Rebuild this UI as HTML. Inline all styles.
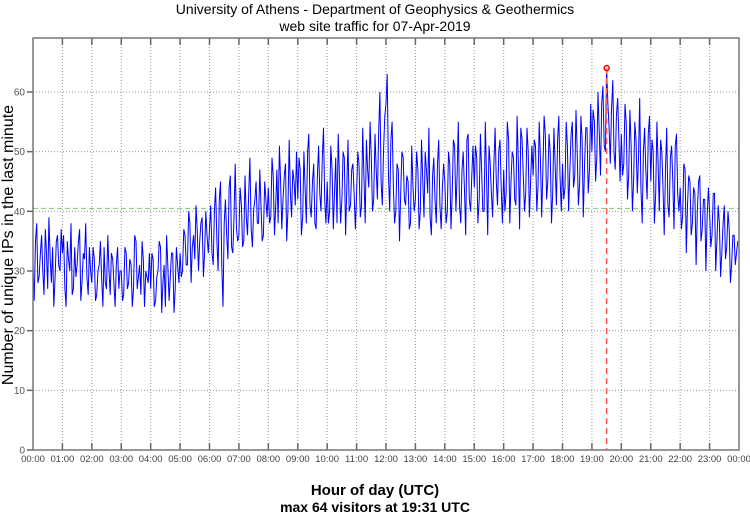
<!DOCTYPE html>
<html><head><meta charset="utf-8"><style>
body{margin:0;background:#fff;}
svg{display:block;font-family:"Liberation Sans",sans-serif;}
</style></head><body>
<svg id="chart" width="750" height="515" viewBox="0 0 750 515">
<text x="375" y="14" text-anchor="middle" font-size="14">University of Athens - Department of Geophysics &amp; Geothermics</text>
<text x="375" y="31" text-anchor="middle" font-size="14">web site traffic for 07-Apr-2019</text>
<text x="375" y="495" text-anchor="middle" font-size="15" font-weight="bold">Hour of day (UTC)</text>
<text x="375" y="512" text-anchor="middle" font-size="14" font-weight="bold">max 64 visitors at 19:31 UTC</text>
<text transform="translate(13,245) rotate(-90)" text-anchor="middle" font-size="16">Number of unique IPs in the last minute</text>
<g id="grid"></g><g id="series"></g><g id="axes"></g>
</svg>
<script>
const yTicks=[0,10,20,30,40,50,60];
const xTickLabels=["00:00","01:00","02:00","03:00","04:00","05:00","06:00","07:00","08:00","09:00","10:00","11:00","12:00","13:00","14:00","15:00","16:00","17:00","18:00","19:00","20:00","21:00","22:00","23:00","00:00"];
const meanLine=[40.5];
// samples at :00, :05, :10 ... of each hour
const visitors=[
31,35,28,33,30,37,27,32,34,29,36,30,
33,27,35,30,26,34,31,37,28,32,29,34,
28,32,26,31,29,34,27,30,33,28,31,27,
30,26,33,28,31,27,35,29,26,32,30,28,
27,32,25,30,34,28,24,31,29,33,27,31,
33,30,36,31,38,34,32,37,35,39,33,36,
37,33,40,35,42,31,38,36,44,34,39,37,
36,41,35,39,43,37,40,45,38,41,36,42,
44,39,46,41,38,45,42,48,40,43,47,41,
42,47,39,44,50,41,45,38,46,43,49,42,
45,40,47,43,38,46,42,49,44,40,47,43,
43,48,41,46,52,44,49,42,47,53,45,50,
58,46,52,44,40,47,43,49,41,45,38,44,
42,47,40,45,50,43,39,46,42,48,41,44,
45,40,48,43,51,46,41,47,44,52,42,46,
44,49,42,47,40,46,51,43,48,45,50,44,
47,43,52,45,49,41,48,54,46,43,50,45,
46,51,44,49,47,53,45,50,43,48,52,46,
48,44,51,47,55,46,50,45,52,48,54,47,
50,55,49,53,58,51,64,54,57,50,56,52,
53,48,55,46,51,45,52,49,44,50,47,53,
45,50,43,48,52,44,47,41,49,45,51,43,
44,39,47,41,45,38,43,40,46,37,42,39,
40,36,43,35,38,33,41,34,37,31,36,33];
// samples at :02.5, :07.5 ... of each hour
const visitorsB=[
25,38,29,36,26,33,39,28,24,35,31,37,
36,24,32,38,27,29,35,25,33,38,26,30,
34,25,30,35,24,28,36,26,32,24,34,30,
25,34,27,32,24,36,27,31,35,24,29,33,
33,24,29,35,23,31,36,25,33,23,34,28,
29,37,31,40,28,36,41,30,38,29,40,33,
41,31,44,30,45,24,42,32,46,33,48,35,
44,34,46,36,49,34,42,38,47,35,45,39,
38,49,36,47,51,37,46,35,52,39,45,50,
49,36,50,38,53,39,48,37,51,40,54,38,
38,51,37,49,53,38,50,36,52,41,48,37,
50,39,54,38,47,55,40,53,42,60,41,56,
63,40,55,38,48,35,50,42,46,37,51,40,
50,37,52,39,47,54,36,49,38,52,37,48,
38,50,37,52,40,55,38,50,36,53,40,51,
51,38,53,40,55,36,48,39,54,41,52,38,
40,55,38,50,42,56,37,52,40,54,39,51,
52,40,55,39,56,42,53,38,54,41,56,40,
42,55,40,53,44,57,41,56,39,54,43,58,
57,45,60,46,61,50,58,48,62,47,59,45,
46,58,42,57,40,55,43,59,38,54,42,56,
52,38,55,40,50,36,54,39,51,37,53,40,
37,48,33,46,36,44,31,45,35,42,30,44,
34,43,30,41,29,38,32,40,28,36,31,35];
const L=33,R=739,T=38,B=450,YMAX=69.05;
const NS="http://www.w3.org/2000/svg";
const xs=h=>L+(R-L)*h/24;
const ys=v=>B-(B-T)*v/YMAX;
function mk(tag,attrs,parent){const e=document.createElementNS(NS,tag);for(const k in attrs)e.setAttribute(k,attrs[k]);parent.appendChild(e);return e;}
const grid=document.getElementById('grid'),axes=document.getElementById('axes'),series=document.getElementById('series');
yTicks.forEach(v=>{
  const y=ys(v);
  if(v>0){const g=mk('line',{x1:L,x2:R,y1:y,y2:y,stroke:'#999','stroke-dasharray':'1,2','stroke-width':1},grid);
  
  }
  const t=mk('line',{x1:L-6,x2:L,y1:y,y2:y,stroke:'#666','stroke-width':1.5},axes);
  
  
  const tl=mk('text',{x:L-8,y:y+3.5,'text-anchor':'end','font-size':10,fill:'#555'},axes);tl.textContent=v;
  
  
});
xTickLabels.forEach((lab,i)=>{
  const x=xs(i);
  if(i>0&&i<24){const g=mk('line',{x1:x,x2:x,y1:T,y2:B,stroke:'#999','stroke-dasharray':'1,2','stroke-width':1},grid);
  
  
  const t1=mk('line',{x1:x,x2:x,y1:B-7,y2:B,stroke:'#666','stroke-width':1.5},axes);
  
  
  const t2=mk('line',{x1:x,x2:x,y1:T,y2:T+7,stroke:'#666','stroke-width':1.5},axes);
  
  }
  const tl=mk('text',{x:x,y:B+12,'text-anchor':'middle','font-size':9.5,fill:'#444'},axes);tl.textContent=lab;
  
  
});
const fr=mk('rect',{x:L,y:T,width:R-L,height:B-T,fill:'none',stroke:'#777','stroke-width':1.5},axes);


const ml=mk('line',{x1:L,x2:R,y1:ys(meanLine[0]),y2:ys(meanLine[0]),stroke:'#7c7','stroke-dasharray':'5,3','stroke-width':1},series);


// merge the two sample sets in time order
const samples=[];
visitors.forEach((v,i)=>{samples.push([i*5,v]);if(i<visitorsB.length)samples.push([i*5+2.5,visitorsB[i]]);});
const pts=samples.map(s=>xs(s[0]/60).toFixed(1)+','+ys(s[1]).toFixed(1)).join(' ');
const pl=mk('polyline',{points:pts,fill:'none',stroke:'#0000ff','stroke-width':1},series);


let mi=0;samples.forEach((s,i)=>{if(s[1]>samples[mi][1])mi=i;});
const mx=xs(samples[mi][0]/60),my=ys(samples[mi][1]);
const rl=mk('line',{x1:mx,x2:mx,y1:my,y2:B,stroke:'#f55','stroke-dasharray':'6,4','stroke-width':1.5},series);


const c=mk('circle',{cx:mx,cy:my,r:2.5,fill:'none',stroke:'#e00','stroke-width':1.5},series);


</script>
</body></html>
